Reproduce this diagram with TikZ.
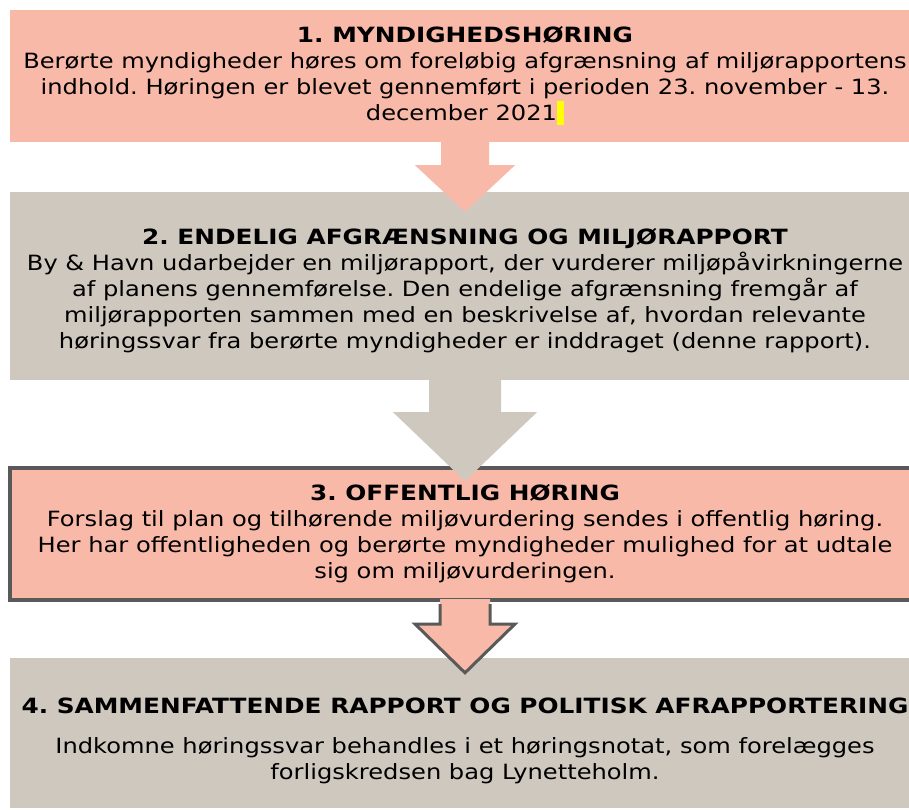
\documentclass[tikz,border=0pt]{standalone}
\usepackage{fontspec}
\setmainfont{DejaVu Sans}[FakeStretch=1.15, BoldFeatures={FakeStretch=1.18}]
\usetikzlibrary{calc}
\definecolor{stepPink}{RGB}{248,185,168}
\definecolor{stepGrey}{RGB}{207,200,190}
\definecolor{stepEdge}{RGB}{89,89,89}
\definecolor{markYellow}{RGB}{255,255,0}
\frenchspacing

\begin{document}
\begin{tikzpicture}[x=1pt, y=-1pt,
    font=\fontsize{21}{26}\selectfont,
    every node/.style={inner sep=0pt, align=center},
    stage/.style={minimum width=910pt},
    pinkstage/.style={stage, fill=stepPink},
    greystage/.style={stage, fill=stepGrey}]

\useasboundingbox [fill=white] (0,0) rectangle (909,809);

% Stage 1
\node (box1) at (465,76) [pinkstage, minimum height=132pt]
    {\textbf{1. MYNDIGHEDSHØRING}\\
     Berørte myndigheder høres om foreløbig afgrænsning af miljørapportens\\
     indhold. Høringen er blevet gennemført i perioden 23. november - 13.\\
     december 2021{\setlength{\fboxsep}{0pt}\colorbox{markYellow}{\vphantom{Åg}\hspace{7pt}}}};

% Stage 2
\node (box2) at (465,286) [greystage, minimum height=188pt]
    {\rule{0pt}{26pt}\textbf{2. ENDELIG AFGRÆNSNING OG MILJØRAPPORT}\\
     By \& Havn udarbejder en miljørapport, der vurderer miljøpåvirkningerne\\
     af planens gennemførelse. Den endelige afgrænsning fremgår af\\
     miljørapporten sammen med en beskrivelse af, hvordan relevante\\
     høringssvar fra berørte myndigheder er inddraget (denne rapport).};

% Arrow 1 -> 2
\fill [stepPink] ($(box1.south)+(-24,-1)$) -- ($(box1.south)+(-24,23)$)
    -- ($(box1.south)+(-50,23)$) -- ($(box2.north)+(0,20)$)
    -- ($(box1.south)+(50,23)$) -- ($(box1.south)+(24,23)$)
    -- ($(box1.south)+(24,-1)$) -- cycle;

% Stage 3
\node (box3) at (465,534) [pinkstage, draw=stepEdge, line width=4pt, minimum height=132pt]
    {\textbf{3. OFFENTLIG HØRING}\\
     Forslag til plan og tilhørende miljøvurdering sendes i offentlig høring.\\
     Her har offentligheden og berørte myndigheder mulighed for at udtale\\
     sig om miljøvurderingen.};

% Arrow 2 -> 3
\fill [stepGrey] ($(box2.south)+(-36,-1)$) -- ($(box2.south)+(-36,32)$)
    -- ($(box2.south)+(-72,32)$) -- ($(box3.north)+(0,15)$)
    -- ($(box2.south)+(72,32)$) -- ($(box2.south)+(36,32)$)
    -- ($(box2.south)+(36,-1)$) -- cycle;

% Stage 4
\node (box4) at (465,733) [greystage, minimum height=150pt]
    {\rule{0pt}{31pt}\textbf{4. SAMMENFATTENDE RAPPORT OG POLITISK AFRAPPORTERING}\\[14pt]
     Indkomne høringssvar behandles i et høringsnotat, som forelægges\\
     forligskredsen bag Lynetteholm.};

% Arrow 3 -> 4
\fill [stepPink] ($(box3.south)+(-25,-3)$) -- ($(box3.south)+(-25,22)$)
    -- ($(box3.south)+(-50,22)$) -- ($(box4.north)+(0,15)$)
    -- ($(box3.south)+(50,22)$) -- ($(box3.south)+(25,22)$)
    -- ($(box3.south)+(25,-3)$) -- cycle;
\draw [stepEdge, line width=3pt, line join=miter]
    ($(box3.south)+(-25,2)$) -- ($(box3.south)+(-25,22)$)
    -- ($(box3.south)+(-50,22)$) -- ($(box4.north)+(0,15)$)
    -- ($(box3.south)+(50,22)$) -- ($(box3.south)+(25,22)$)
    -- ($(box3.south)+(25,2)$);

\end{tikzpicture}
\end{document}
